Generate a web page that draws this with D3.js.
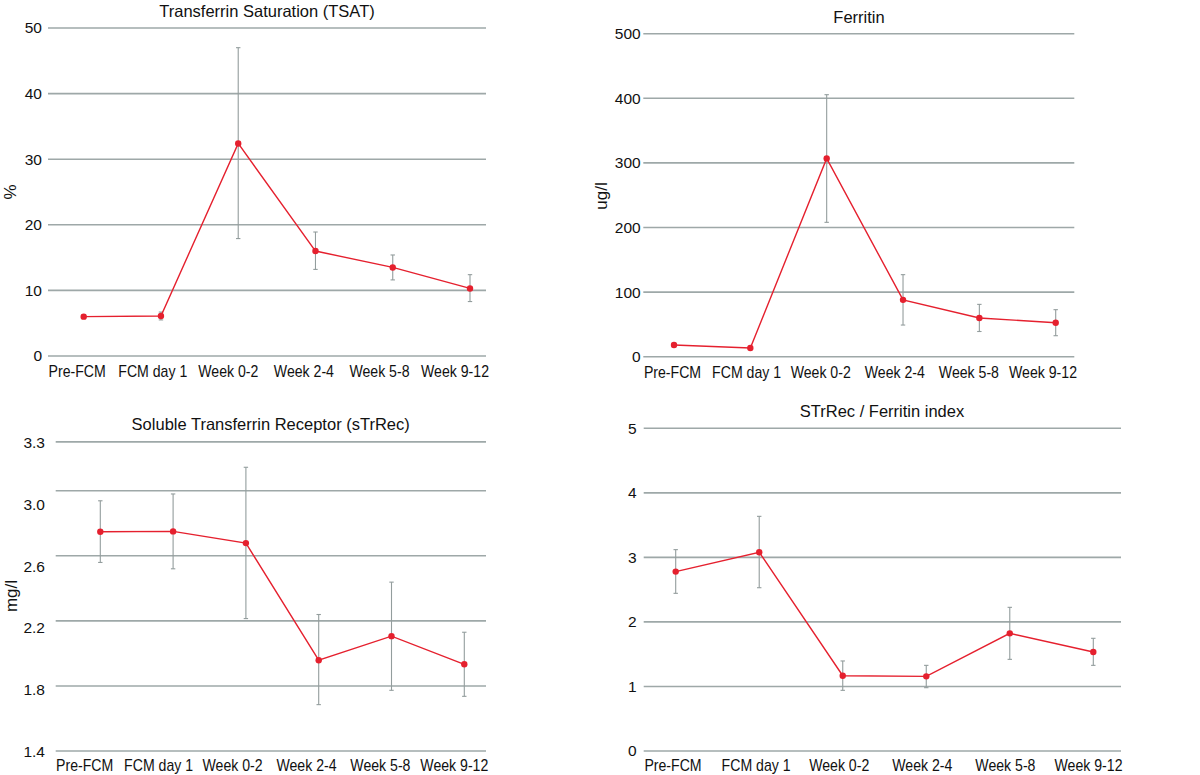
<!DOCTYPE html>
<html>
<head>
<meta charset="utf-8">
<script src="https://cdn.jsdelivr.net/npm/d3@7"></script>
<style>
  html, body { margin: 0; padding: 0; background: #fff; }
  svg { display: block; font-family: "Liberation Sans", Arial, Helvetica, sans-serif; }
</style>
</head>
<body>
<svg id="chart" width="1200" height="775"></svg>
<script>
// ---------- DATA ----------
const categories = ["Pre-FCM", "FCM day 1", "Week 0-2", "Week 2-4", "Week 5-8", "Week 9-12"];

const tsatMean = [6.0, 6.1, 32.4, 16.0, 13.5, 10.3];
const tsatLow  = [5.7, 5.5, 17.9, 13.2, 11.6, 8.3];
const tsatHigh = [6.3, 6.7, 47.0, 18.9, 15.4, 12.4];
const tsatTicks = [0, 10, 20, 30, 40, 50];

const ferritinMean = [18, 13.5, 307, 88, 60, 52.6];
const ferritinLow  = [15, 11.5, 208, 49, 39, 32.5];
const ferritinHigh = [21, 15.5, 405.6, 127, 81, 72.8];
const ferritinTicks = [0, 100, 200, 300, 400, 500];

const strecMean = [2.748, 2.75, 2.678, 1.958, 2.106, 1.933];
const strecLow  = [2.559, 2.52, 2.214, 1.685, 1.773, 1.736];
const strecHigh = [2.938, 2.98, 3.144, 2.239, 2.438, 2.13];
const strecTicks = [1.4, 1.8, 2.2, 2.6, 3.0, 3.3];

const indexMean = [2.78, 3.08, 1.167, 1.157, 1.823, 1.534];
const indexLow  = [2.443, 2.53, 0.94, 0.981, 1.42, 1.327];
const indexHigh = [3.12, 3.636, 1.395, 1.327, 2.226, 1.746];
const indexTicks = [0, 1, 2, 3, 4, 5];

// ---------- LAYOUT ----------
const panels = [
  { title: "Transferrin Saturation (TSAT)", ylabel: "%", mean: tsatMean, low: tsatLow, high: tsatHigh, ticks: tsatTicks,
    fmt: d3.format("d"), yPx: [356, 28], pts: [83.7, 470], lbl: [76.7, 454.5], grid: [48, 486], tickX: 42,
    titleX: 267, titleY: 16.5, ylX: 15.5, ylY: 192, xlabY: 377, evenLabels: false },
  { title: "Ferritin", ylabel: "ug/l", mean: ferritinMean, low: ferritinLow, high: ferritinHigh, ticks: ferritinTicks,
    fmt: d3.format("d"), yPx: [356.7, 33.7], pts: [674, 1055.7], lbl: [672, 1042.5], grid: [643.3, 1074.3], tickX: 640.7,
    titleX: 859, titleY: 22.5, ylX: 607, ylY: 196, xlabY: 377.5, evenLabels: false },
  { title: "Soluble Transferrin Receptor (sTrRec)", ylabel: "mg/l", mean: strecMean, low: strecLow, high: strecHigh, ticks: strecTicks,
    fmt: d3.format(".1f"), yPx: [751, 441.9], pts: [100.3, 464.3], lbl: [84.2, 453.8], grid: [55.7, 486], tickX: 45,
    titleX: 270.7, titleY: 430, ylX: 17, ylY: 596, xlabY: 771, evenLabels: true, labelPx: [751.7, 442.3] },
  { title: "STrRec / Ferritin index", ylabel: "", mean: indexMean, low: indexLow, high: indexHigh, ticks: indexTicks,
    fmt: d3.format("d"), yPx: [751, 428.3], pts: [675.7, 1093.3], lbl: [672.5, 1088], grid: [643.7, 1121], tickX: 636.7,
    titleX: 882, titleY: 416.5, ylX: 0, ylY: 0, xlabY: 771, evenLabels: false }
];

const RED = "#e5202e";
const GRID = "#9ea8a8";
const ERR = "#939d9d";
const svg = d3.select("#chart");

panels.forEach(p => {
  const g = svg.append("g");
  const yMin = d3.min(p.ticks), yMax = d3.max(p.ticks);
  const y = d3.scaleLinear().domain([yMin, yMax]).range(p.yPx);
  const x = d3.scalePoint().domain(categories).range(p.pts);
  const xl = d3.scalePoint().domain(categories).range(p.lbl);

  // gridlines
  g.append("g").selectAll("line").data(p.ticks).join("line")
    .attr("x1", p.grid[0]).attr("x2", p.grid[1])
    .attr("y1", d => y(d)).attr("y2", d => y(d))
    .attr("stroke", GRID).attr("stroke-width", 1.6);

  // y tick labels
  let yAxisScale = y;
  if (p.evenLabels) {
    yAxisScale = d3.scalePoint().domain(p.ticks).range(p.labelPx);
  }
  const ya = g.append("g").attr("transform", `translate(${p.tickX},0)`)
    .call(d3.axisLeft(yAxisScale).tickValues(p.ticks).tickFormat(p.fmt).tickSize(0).tickPadding(0));
  ya.select(".domain").remove();
  ya.selectAll("text").attr("font-size", 15.5).attr("fill", "#111")
    .attr("font-family", '"Liberation Sans", Arial, sans-serif');

  // x labels
  const xa = g.append("g").attr("transform", `translate(0,${p.xlabY})`)
    .call(d3.axisBottom(xl).tickSize(0).tickPadding(0));
  xa.select(".domain").remove();
  xa.selectAll("text").attr("font-size", 17).attr("fill", "#111")
    .attr("dy", 0).attr("y", 0)
    .attr("font-family", '"Liberation Sans", Arial, sans-serif')
    .each(function () {
      const L = this.getComputedTextLength();
      d3.select(this).attr("textLength", L * 0.83).attr("lengthAdjust", "spacingAndGlyphs");
    });

  // title
  g.append("text").attr("x", p.titleX).attr("y", p.titleY)
    .attr("text-anchor", "middle").attr("font-size", 16.5).attr("fill", "#111").text(p.title);

  // y label
  if (p.ylabel) {
    g.append("text").attr("transform", `translate(${p.ylX},${p.ylY}) rotate(-90)`)
      .attr("text-anchor", "middle").attr("font-size", 17).attr("fill", "#111").text(p.ylabel);
  }

  // error bars
  const eb = g.append("g").attr("stroke", ERR).attr("stroke-width", 1.1);
  categories.forEach((c, i) => {
    const cx = x(c);
    eb.append("line").attr("x1", cx).attr("x2", cx).attr("y1", y(p.low[i])).attr("y2", y(p.high[i]));
    eb.append("line").attr("x1", cx - 2.2).attr("x2", cx + 2.2).attr("y1", y(p.low[i])).attr("y2", y(p.low[i]));
    eb.append("line").attr("x1", cx - 2.2).attr("x2", cx + 2.2).attr("y1", y(p.high[i])).attr("y2", y(p.high[i]));
  });

  // line
  const line = d3.line().x((d, i) => x(categories[i])).y(d => y(d));
  g.append("path").datum(p.mean).attr("d", line)
    .attr("fill", "none").attr("stroke", RED).attr("stroke-width", 1.4);

  // points
  g.append("g").selectAll("circle").data(p.mean).join("circle")
    .attr("cx", (d, i) => x(categories[i])).attr("cy", d => y(d)).attr("r", 3.2)
    .attr("fill", RED);
});
</script>
</body>
</html>
